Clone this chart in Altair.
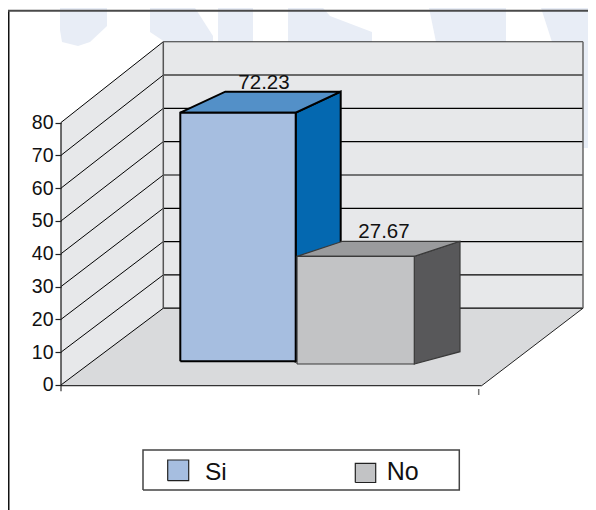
import altair as alt
import pandas as pd

# Chart units: x = distance along the category axis, y = axis value (front plane)
X_MIN, X_MAX = -53, 527
Y_MIN, Y_MAX = -38.1, 114.9

ticks = [0, 10, 20, 30, 40, 50, 60, 70, 80]
names = ["Si", "No"]
value_labels = ["72.23", "27.67"]
label_x = [203.0, 323.0]
bar_x0 = [119.3, 236.0]
bar_x1 = [234.7, 353.3]
bar_top = [83.0, 39.2]
bar_base = [7.2, 6.4]
depth_x = [45.0, 45.7]
depth_top = [6.4, 4.6]
depth_base = [6.4, 3.75]
front_fill = ["#a6bee0", "#c2c3c5"]
top_fill = ["#5390c8", "#9a9b9d"]
side_fill = ["#0468b0", "#58585a"]
bar_stroke = ["#000000", "#3a3a3a"]
bar_sw = [2, 1.2]

back_dx = 102.3
back_v0 = 23.4
back_k = 1.0152
floor_w = 420.7

xs = alt.Scale(domain=[0, X_MAX], nice=False, zero=False)
ys = alt.Scale(domain=[Y_MIN, Y_MAX], nice=False, zero=False)
y_axis = alt.Axis(
    values=ticks, format="d", title=None, domain=False, grid=False,
    tickSize=6, tickColor="#222222", tickWidth=1.2, labelFont="Liberation Sans",
    labelFontSize=19.5, labelColor="#111111", labelPadding=2, zindex=1,
    labelOverlap=False,
)
X = alt.X("x:Q", scale=xs, axis=None)
Y = alt.Y("y:Q", scale=ys, axis=y_axis)


def back(v):
    return back_v0 + back_k * v


def ux(p):
    return p - 61


def uv(p):
    return (385 - p) / 3.28


def poly(pts, fill, stroke=None, sw=1):
    df = pd.DataFrame({"x": [p[0] for p in pts], "y": [p[1] for p in pts], "o": range(len(pts))})
    kw = {"fill": fill, "strokeWidth": sw, "strokeJoin": "miter"}
    kw["stroke"] = stroke if stroke else fill
    if not stroke:
        kw["strokeWidth"] = 0
    return alt.Chart(df).mark_line(**kw).encode(x=X, y=Y, order="o:Q")


def seg(p, q, color="#000000", sw=1):
    df = pd.DataFrame({"x": [p[0], q[0]], "y": [p[1], q[1]], "o": [0, 1]})
    return alt.Chart(df).mark_line(stroke=color, strokeWidth=sw).encode(x=X, y=Y, order="o:Q")


def label(t, x, y, size, align="left", color="#111111"):
    df = pd.DataFrame({"x": [x], "y": [y], "t": [t]})
    return alt.Chart(df).mark_text(
        font="Liberation Sans", fontSize=size, align=align, baseline="alphabetic", color=color
    ).encode(x=X, y=Y, text="t:N")


def box(x0, x1, y0, y1, fill, stroke, sw):
    return poly([(x0, y0), (x1, y0), (x1, y1), (x0, y1), (x0, y0)], fill, stroke, sw)


layers = []

# faint watermark behind the picture
mark = "#e8edf6"
wm = [
    [(60, 8), (107, 8), (107, 26), (90, 42), (78, 46), (62, 42), (60, 30)],
    [(150, 8), (195, 8), (213, 36), (213, 42), (165, 42), (150, 32)],
    [(218, 8), (253, 8), (253, 42), (218, 42)],
    [(288, 8), (323, 8), (330, 16), (372, 32), (372, 42), (288, 42)],
    [(429, 8), (506, 8), (506, 42), (436, 42)],
    [(541, 8), (588, 8), (588, 148), (582, 148), (582, 42), (552, 42)],
]
for shape in wm:
    layers.append(poly([(ux(a), uv(b)) for a, b in shape + [shape[0]]], mark))

# walls and floor
layers.append(poly([(0, 80), (back_dx, back(80)), (back_dx, back(0)), (0, 0), (0, 80)], "#e7e8ea"))
layers.append(
    poly(
        [(back_dx, back(80)), (back_dx + floor_w - 1, back(80)), (back_dx + floor_w - 1, back(0)), (back_dx, back(0)), (back_dx, back(80))],
        "#e7e8ea",
    )
)
layers.append(
    poly([(0, 0), (back_dx, back(0)), (back_dx + floor_w - 1, back(0)), (floor_w, -0.2), (0, -0.2), (0, 0)], "#d9dadc")
)
for v in ticks[1:]:
    layers.append(seg((0, v), (back_dx, back(v)), "#000000", 1))
for v in ticks:
    c, w = ("#000000", 1.2)
    if v == 70:
        c, w = ("#6a6a6a", 2)
    if v == 80:
        c, w = ("#333333", 1.2)
    layers.append(seg((back_dx, back(v)), (back_dx + floor_w - 1, back(v)), c, w))
layers.append(seg((back_dx, back(0)), (back_dx, back(80)), "#555555", 1.5))
layers.append(seg((back_dx + floor_w - 1, back(0)), (back_dx + floor_w - 1, back(80)), "#666666", 1.5))
layers.append(seg((0, 0), (back_dx, back(0)), "#000000", 1))
layers.append(seg((0, -0.2), (floor_w, -0.2), "#333333", 1.3))
layers.append(seg((floor_w, -0.2), (back_dx + floor_w - 1, back(0)), "#222222", 1))
layers.append(seg((0, 0), (0, 80), "#222222", 1.3))
layers.append(seg((0, 0), (0, -1.9), "#333333", 1.2))
layers.append(seg((ux(478.7), uv(389)), (ux(478.7), uv(395)), "#777777", 1.5))

# bars
for i in range(2):
    x0, x1, t, b = bar_x0[i], bar_x1[i], bar_top[i], bar_base[i]
    dx, dt, db = depth_x[i], depth_top[i], depth_base[i]
    s, w = bar_stroke[i], bar_sw[i]
    layers.append(poly([(x1, t), (x1 + dx, t + dt), (x1 + dx, b + db), (x1, b), (x1, t)], side_fill[i], s, w))
    layers.append(poly([(x0, t), (x0 + dx, t + dt), (x1 + dx, t + dt), (x1, t), (x0, t)], top_fill[i], s, w))
    layers.append(box(x0, x1, b, t, front_fill[i], s, w))
    layers.append(label(value_labels[i], label_x[i], t + dt + 0.9, 20.5, "center"))

# legend box
layers.append(box(ux(143), ux(459.3), uv(490), uv(450), "#ffffff", "#444444", 1.5))
layers.append(box(ux(167.7), ux(188.7), uv(480.7), uv(460), front_fill[0], "#222222", 1.2))
layers.append(box(ux(355.3), ux(375.7), uv(482.5), uv(463.3), front_fill[1], "#222222", 1.2))
layers.append(label(names[0], ux(205), uv(480), 24.5))
layers.append(label(names[1], ux(386.7), uv(480), 25))

# frame of the figure
layers.append(seg((X_MIN + 0.5, uv(11)), (X_MIN + 0.5, Y_MIN), "#111111", 2))
layers.append(seg((X_MIN, uv(11)), (X_MAX, uv(11)), "#4a4a4a", 2))

chart = (
    alt.layer(*layers)
    .properties(
        width=527, height=502,
        padding={"left": 53, "right": 0, "top": 0, "bottom": 0},
        autosize=alt.AutoSizeParams(type="none"),
        background="#ffffff",
    )
    .configure_view(stroke=None)
)

chart.save("out.html", embed_options={"renderer": "svg", "actions": False})
